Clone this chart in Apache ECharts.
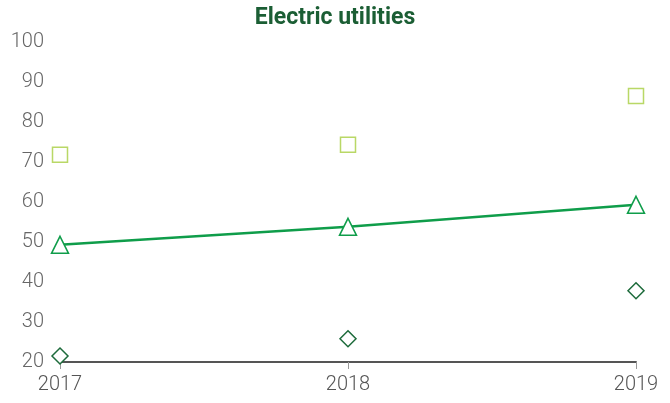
<!DOCTYPE html>
<html>
<head>
<meta charset="utf-8">
<script src="https://cdn.jsdelivr.net/npm/echarts@6/dist/echarts.min.js"></script>
<style>
  html, body { margin: 0; padding: 0; background: #fff; }
  #chart { width: 670px; height: 403px; }
</style>
</head>
<body>
<div id="chart"></div>
<script>
// data
const years = ['2017', '2018', '2019'];
const squareValues = [71.8, 74.3, 86.5];
const triangleValues = [49.3, 53.8, 59.3];
const diamondValues = [21.5, 25.8, 37.8];

const chart = echarts.init(document.getElementById('chart'));

const option = {
  animation: false,
  title: {
    text: 'Electric utilities',
    left: 'center',
    top: 2,
    textStyle: {
      fontFamily: 'Roboto',
      fontWeight: 'bold',
      fontSize: 23,
      color: '#1b5e34'
    }
  },
  grid: { left: 60, right: 34, top: 42, bottom: 41 },
  xAxis: {
    type: 'category',
    data: years,
    boundaryGap: false,
    axisLine: { lineStyle: { color: '#555', width: 2 } },
    axisTick: { show: true, length: 7, lineStyle: { color: '#999' } },
    axisLabel: {
      fontFamily: 'Roboto',
      fontWeight: 300,
      fontSize: 20,
      color: '#555',
      margin: 13
    }
  },
  yAxis: {
    type: 'value',
    min: 20,
    max: 100,
    interval: 10,
    axisLine: { show: false },
    axisTick: { show: false },
    splitLine: { show: false },
    axisLabel: {
      fontFamily: 'Roboto',
      fontWeight: 300,
      fontSize: 20,
      color: '#666',
      margin: 16
    }
  },
  series: [
    {
      name: 'square',
      type: 'line',
      data: squareValues,
      symbol: 'rect',
      symbolSize: 15,
      lineStyle: { width: 0, opacity: 0 },
      itemStyle: { color: '#fff', borderColor: '#b9d866', borderWidth: 1.5 }
    },
    {
      name: 'triangle',
      type: 'line',
      data: triangleValues,
      symbol: 'triangle',
      symbolSize: 17,
      lineStyle: { width: 2.5, color: '#0f9d4a' },
      itemStyle: { color: '#fff', borderColor: '#0f9d4a', borderWidth: 1.5 }
    },
    {
      name: 'diamond',
      type: 'line',
      data: diamondValues,
      symbol: 'diamond',
      symbolSize: 16,
      lineStyle: { width: 0, opacity: 0 },
      itemStyle: { color: '#fff', borderColor: '#1d6b3b', borderWidth: 1.5 }
    }
  ]
};

chart.setOption(option);
window.addEventListener('resize', chart.resize);
</script>
</body>
</html>
